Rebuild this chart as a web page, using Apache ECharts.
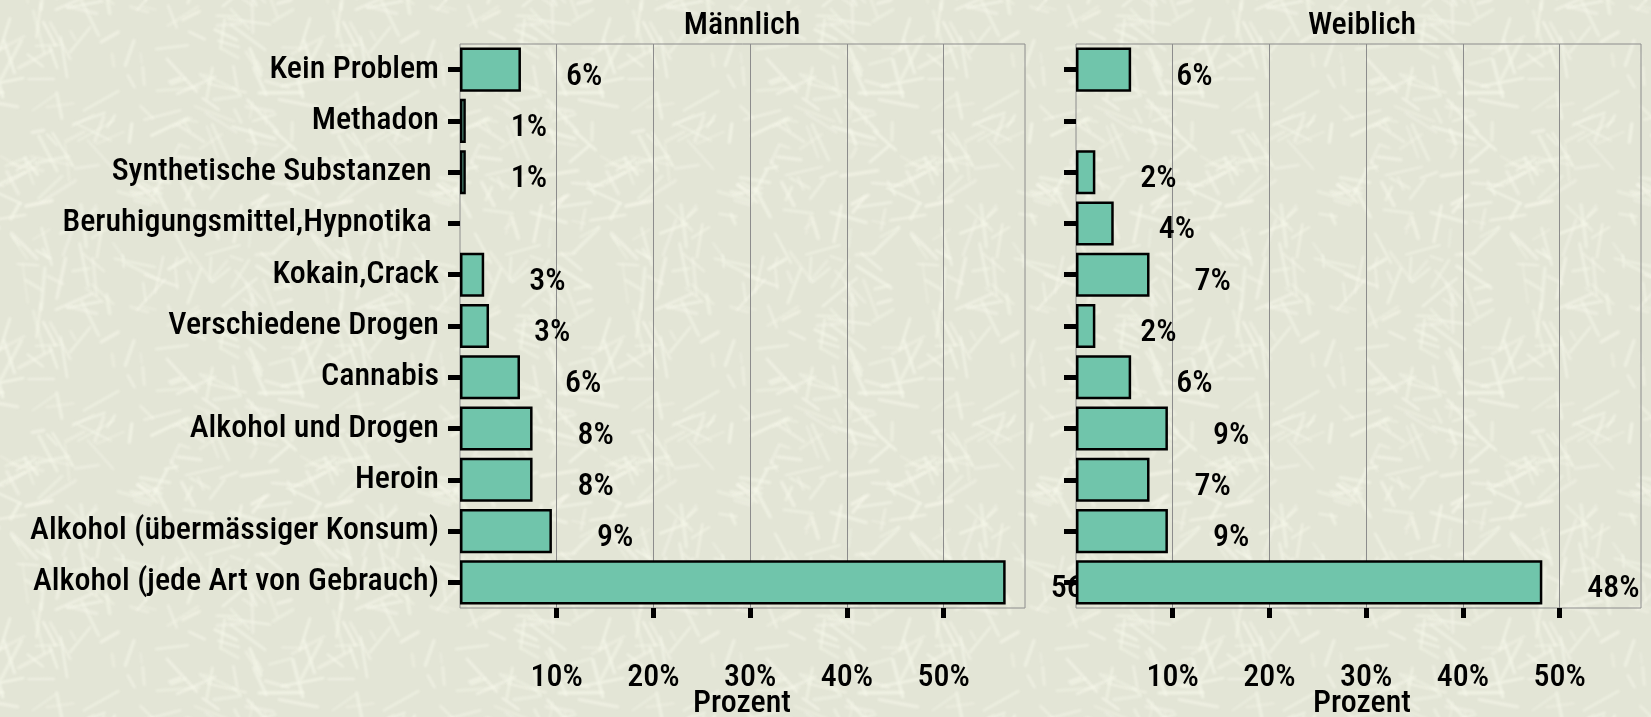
<!DOCTYPE html>
<html>
<head>
<meta charset="utf-8">
<script src="https://cdn.jsdelivr.net/npm/echarts@6/dist/echarts.min.js"></script>
<style>
  html, body { margin: 0; padding: 0; background: #e6e8da; }
  #chart { width: 1651px; height: 717px; background-color: #e6e8da; }
</style>
</head>
<body>
<div id="chart"></div>
<script>
// Categories, top to bottom
const categories = [
  'Kein Problem',
  'Methadon',
  'Synthetische Substanzen ',
  'Beruhigungsmittel,Hypnotika ',
  'Kokain,Crack',
  'Verschiedene Drogen',
  'Cannabis',
  'Alkohol und Drogen',
  'Heroin',
  'Alkohol (übermässiger Konsum)',
  'Alkohol (jede Art von Gebrauch)'
];
// Bar lengths (percent)
const maleValues   = [6.3, 0.6, 0.6, 0, 2.5, 3.0, 6.2, 7.5, 7.5, 9.5, 56.4];
const femaleValues = [5.7, 0, 2.0, 3.9, 7.6, 2.0, 5.7, 9.5, 7.6, 9.5, 48.2];
// Printed value labels (percent)
const maleLabels   = [6, 1, 1, 0, 3, 3, 6, 8, 8, 9, 56];
const femaleLabels = [6, 0, 2, 4, 7, 2, 6, 9, 7, 9, 48];
// Axis ticks
const xTicks = [10, 20, 30, 40, 50];
const panelTitles = ['Männlich', 'Weiblich'];
const axisTitle = 'Prozent';

const FONT = "'Roboto Condensed', 'Open Sans Condensed', sans-serif";
const FS = 32;
const FW = 500;
const BAR = '#70c5ab';
const XMAX = 58.4;

// Decorative paper texture for the page background (not chart data)
(function makeTexture() {
  const size = 300;
  const cv = document.createElement('canvas');
  cv.width = size; cv.height = size;
  const ctx = cv.getContext('2d');
  ctx.fillStyle = '#e3e5d6';
  ctx.fillRect(0, 0, size, size);
  let s = 12345;
  const rnd = () => { s = (s * 1103515245 + 12345) % 2147483648; return s / 2147483648; };
  ctx.lineCap = 'round';
  ctx.filter = 'blur(0.8px)';
  for (let i = 0; i < 230; i++) {
    const x = rnd() * size, y = rnd() * size;
    const a = rnd() * Math.PI * 2, len = 10 + rnd() * 34;
    ctx.strokeStyle = 'rgba(246,247,234,' + (0.35 + rnd() * 0.35).toFixed(2) + ')';
    ctx.lineWidth = 2.2 + rnd() * 1.6;
    for (let dx = -size; dx <= size; dx += size) {
      for (let dy = -size; dy <= size; dy += size) {
        ctx.beginPath();
        ctx.moveTo(x + dx, y + dy);
        ctx.lineTo(x + dx + Math.cos(a) * len, y + dy + Math.sin(a) * len);
        ctx.stroke();
      }
    }
  }
  document.getElementById('chart').style.backgroundImage = 'url(' + cv.toDataURL() + ')';
})();

function toData(vals) { return vals.map(v => v === 0 ? '-' : v); }

function xAxisCfg(gridIndex) {
  return {
    type: 'value', gridIndex: gridIndex, min: 0, max: XMAX,
    axisLine: { show: false },
    splitLine: { show: false },
    axisTick: { show: true, customValues: xTicks, length: 10, inside: false,
      lineStyle: { color: '#000', width: 5 } },
    axisLabel: { customValues: xTicks, formatter: v => v + '%', margin: 54,
      color: '#000', fontFamily: FONT, fontWeight: FW, fontSize: FS }
  };
}
function yAxisCfg(gridIndex, showLabels, z) {
  return {
    type: 'category', gridIndex: gridIndex, data: categories, inverse: true, z: z,
    axisLine: { show: false },
    axisTick: { show: true, alignWithLabel: true, length: 12,
      lineStyle: { color: '#000', width: 5 } },
    axisLabel: { show: showLabels, margin: 21, color: '#000', fontFamily: FONT,
      fontWeight: FW, fontSize: FS },
    splitLine: { show: false }
  };
}
function seriesCfg(idx, vals, labels, z) {
  return {
    type: 'bar', xAxisIndex: idx, yAxisIndex: idx, z: z,
    data: toData(vals),
    barCategoryGap: '14%',
    itemStyle: { color: BAR, borderColor: '#000', borderWidth: 2.5 },
    label: {
      show: true, position: 'right', distance: 45, offset: [0, 7],
      formatter: p => labels[p.dataIndex] ? labels[p.dataIndex] + '%' : '',
      color: '#000', fontFamily: FONT, fontWeight: FW, fontSize: FS
    },
    markLine: {
      silent: true, symbol: 'none', label: { show: false }, z: 1,
      lineStyle: { color: '#8c8c8c', width: 1, type: 'solid' },
      data: xTicks.map(t => ({ xAxis: t }))
    },
    animation: false
  };
}
function textTitle(text, x, y) {
  return { text: text, left: x, top: y, textAlign: 'center',
    textStyle: { color: '#000', fontFamily: FONT, fontWeight: FW, fontSize: FS } };
}

const chart = echarts.init(document.getElementById('chart'), null, { renderer: 'canvas' });
chart.setOption({
  backgroundColor: 'transparent',
  animation: false,
  title: [
    textTitle(panelTitles[0], 737, 5),
    textTitle(panelTitles[1], 1357, 5),
    textTitle(axisTitle, 737, 683),
    textTitle(axisTitle, 1357, 683)
  ],
  grid: [
    { left: 460, top: 44, width: 565, height: 564, show: true, borderColor: '#8c8c8c', borderWidth: 1,
      backgroundColor: 'transparent', outerBoundsMode: 'none', containLabel: false },
    { left: 1076, top: 44, width: 565, height: 564, show: true, borderColor: '#8c8c8c', borderWidth: 1,
      backgroundColor: 'transparent', outerBoundsMode: 'none', containLabel: false }
  ],
  xAxis: [xAxisCfg(0), xAxisCfg(1)],
  yAxis: [yAxisCfg(0, true, 0), yAxisCfg(1, false, 5)],
  series: [seriesCfg(0, maleValues, maleLabels, 2), seriesCfg(1, femaleValues, femaleLabels, 3)]
});
</script>
</body>
</html>
